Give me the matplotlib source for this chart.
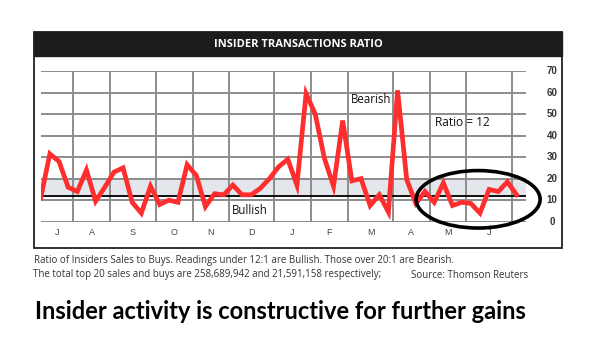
import numpy as np
import matplotlib.pyplot as plt
from matplotlib.patches import Rectangle, Ellipse

# weekly insider sales/buys ratio
ratio = [11, 31.5, 28, 16, 14, 24, 9.5, 16, 23, 25,
         9, 4, 16.5, 8, 10, 9, 26.5, 21.5, 7, 13,
         12.5, 17, 12.5, 12.5, 15.5, 20, 25.5, 29, 17, 59.5,
         50, 29.5, 16.5, 47, 19, 20, 7.5, 12.5, 4.5, 61,
         19.5, 8.5, 14, 9, 18, 7.5, 9, 8.5, 4, 15,
         14, 18.5, 12.5]
months = ["J", "A", "S", "O", "N", "D", "J", "F", "M", "A", "M", "J"]
month_bounds = [0, 3.53, 7.57, 12.6, 16.6, 20.6, 25.5, 29.5, 33.6, 38.5, 42.5, 46.5, 51.5]
y_ticks = [0, 10, 20, 30, 40, 50, 60, 70]

fig = plt.figure(figsize=(6, 3.38), dpi=100)

# panel frame + dark header
fig.patches.append(Rectangle((34 / 600, 1 - 248 / 338), 528 / 600, 216 / 338,
                             transform=fig.transFigure, fc="white", ec="#222222", lw=1.3, zorder=-1))
fig.patches.append(Rectangle((34 / 600, 1 - 56 / 338), 528 / 600, 24 / 338,
                             transform=fig.transFigure, fc="#1c1c1c", ec="#1c1c1c", lw=1, zorder=1))
fig.text(298 / 600, 1 - 44.5 / 338, "INSIDER TRANSACTIONS RATIO", color="white",
         fontsize=8, fontweight="bold", family="Open Sans", ha="center", va="center", zorder=3)

ax = fig.add_axes([40.7 / 600, 1 - 221.7 / 338, 485 / 600, 150.7 / 338])
ax.set_zorder(2)
ax.patch.set_visible(False)
ax.set_xlim(0, 53)
ax.set_ylim(0, 70)
for s in ax.spines.values():
    s.set_visible(False)

# grid
for y in y_ticks:
    ax.axhline(y, color="#8c8c8c", lw=1.4, zorder=1)
for b in month_bounds[1:]:
    ax.axvline(b, color="#8c8c8c", lw=1.4, zorder=1)

# bullish/bearish band
ax.axhspan(12, 20, color="#e3e7eb", zorder=0.5)
ax.axhline(12, color="black", lw=1.3, zorder=2)

x = np.arange(len(ratio))
ax.plot(x, ratio, color="#ff2e2e", lw=3.4, zorder=3, solid_joinstyle="miter")

ax.set_xticks([])
ax.set_yticks([])
mids = [(month_bounds[i] + month_bounds[i + 1]) / 2 for i in range(len(months))]
mids[-1] = 49.0
for m, xm in zip(months, mids):
    ax.text(xm, -5, m, fontsize=6.5, color="#444444", ha="center", va="center", family="Liberation Sans")
for y in y_ticks:
    ax.text(55.9, y, str(y), fontsize=7, fontweight="bold", color="#333333", ha="center", va="center",
            family="Liberation Sans")

ax.text(33.9, 56.6, "Bearish", fontsize=8.3, color="#111111", va="center", family="Open Sans")
ax.text(43.1, 46.2, "Ratio = 12", fontsize=8.6, color="#111111", va="center", family="Open Sans")
ax.text(20.9, 5.4, "Bullish", fontsize=8.3, color="#111111", va="center", family="Open Sans")

ax.add_patch(Ellipse((47.8, 10.4), 13.55, 26.7, fill=False, ec="black", lw=2.6, zorder=4, clip_on=False))

fig.text(34 / 600, 1 - 260.7 / 338,
         "Ratio of Insiders Sales to Buys. Readings under 12:1 are Bullish. Those over 20:1 are Bearish.",
         fontsize=7, color="#333333", va="center", family="Open Sans")
fig.text(33 / 600, 1 - 275 / 338,
         "The total top 20 sales and buys are 258,689,942 and 21,591,158 respectively;",
         fontsize=7, color="#333333", va="center", family="Open Sans")
fig.text(528 / 600, 1 - 275 / 338, "Source: Thomson Reuters",
         fontsize=7, color="#333333", va="center", ha="right", family="Open Sans")

fig.text(280 / 600, 1 - 311.7 / 338, "Insider activity is constructive for further gains",
         fontsize=17, fontweight="bold", color="black", ha="center", va="center", family="Lato")

fig.savefig("out.png", dpi=100)
